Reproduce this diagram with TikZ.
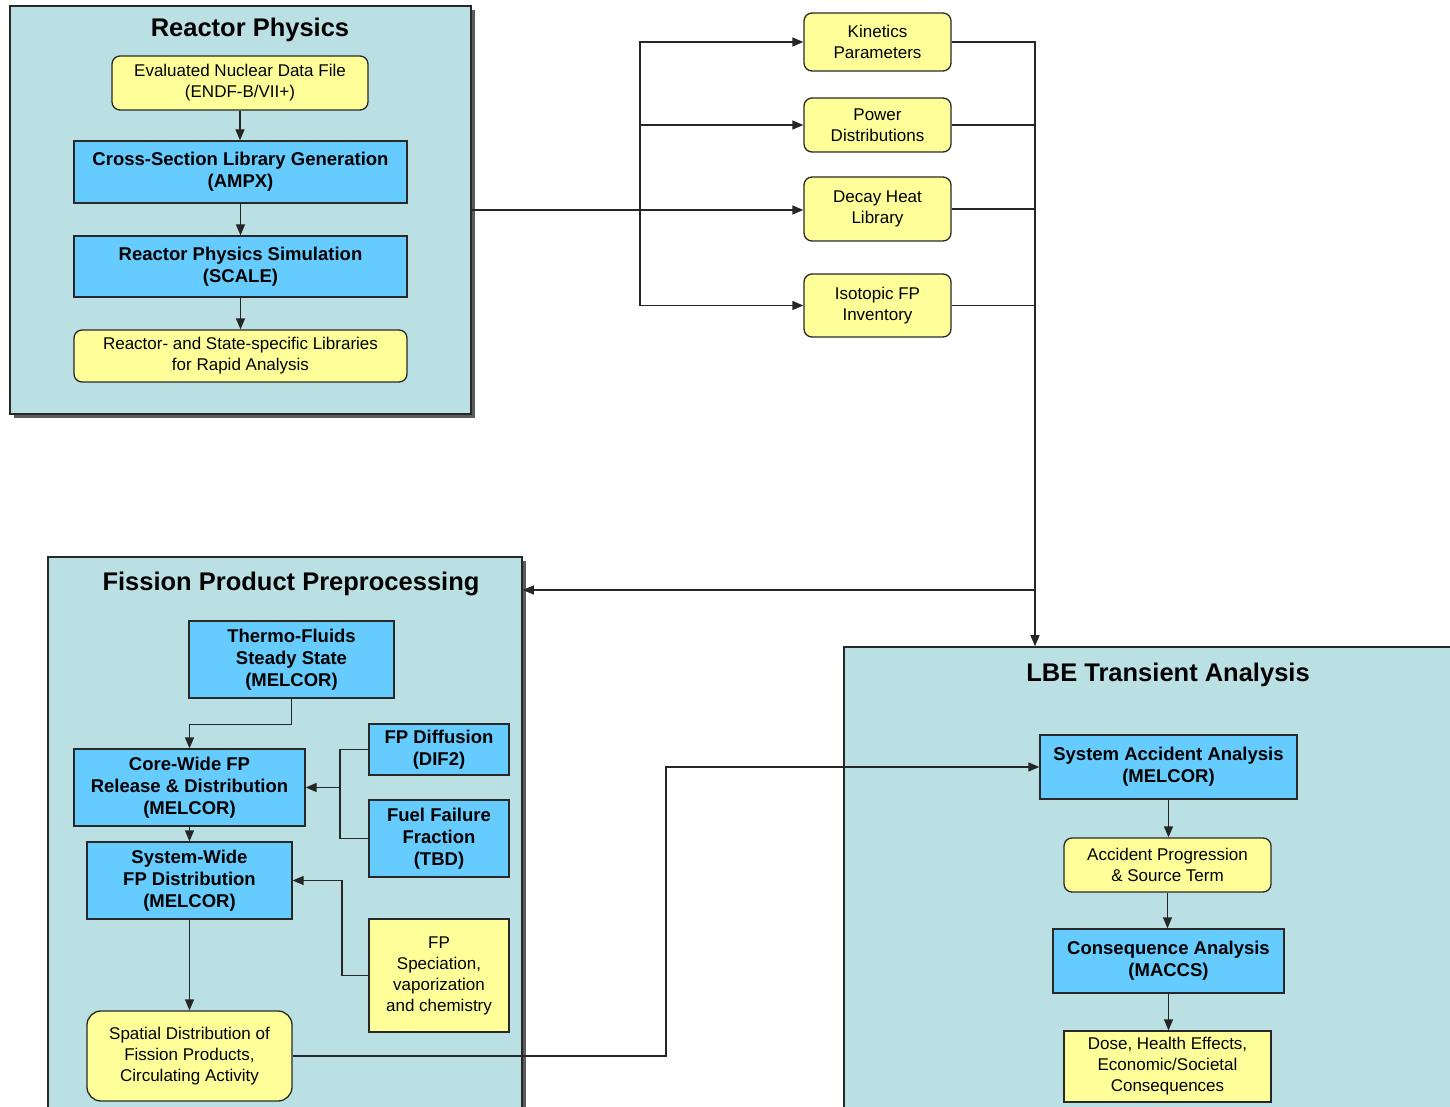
\documentclass[tikz,border=0pt]{standalone}
\usepackage{fontspec}
\setmainfont{Liberation Sans}
\usetikzlibrary{arrows.meta,shadows}
\definecolor{panelfill}{RGB}{187,224,227}
\definecolor{bluefill}{RGB}{102,204,255}
\definecolor{yellowfill}{RGB}{255,255,153}
\definecolor{edge}{RGB}{40,40,40}
\tikzset{
  panel/.style={draw=edge, line width=1.6pt, fill=panelfill, inner sep=0pt,
    drop shadow={shadow xshift=4pt, shadow yshift=-4pt, fill=black!80, opacity=0.8}},
  ptitle/.style={font=\fontsize{25.5}{30}\selectfont\bfseries, inner sep=0pt},
  bluebox/.style={draw=edge, line width=1.3pt, fill=bluefill, align=center, inner sep=0pt,
    font=\fontsize{18.5}{22}\selectfont\bfseries},
  ybox/.style={draw=edge, line width=1.3pt, fill=yellowfill, rounded corners=8pt, align=center,
    inner sep=0pt, font=\fontsize{17}{21}\selectfont},
  ysq/.style={ybox, sharp corners},
  conn/.style={line width=1.3pt, draw=black!85},
  arr/.style={conn, -{Triangle[length=11pt,width=9pt]}},
}
\begin{document}
\begin{tikzpicture}[x=1pt,y=-1pt]
\useasboundingbox (0,0) rectangle (1450,1107);
\fill[white] (0,0) rectangle (1450,1107);

% ---------- panels ----------
\node[panel, minimum width=461pt, minimum height=408pt] (rp) at (240.5,210) {};
\node[panel, minimum width=474pt, minimum height=573pt] (fpp) at (285,843.5) {};
\node[panel, minimum width=626pt, minimum height=483pt] (lbe) at (1157,888.5) {};

\node[ptitle] (rpt) at (250,29.5) {Reactor Physics};
\node[ptitle] (fppt) at (291,583.5) {Fission Product Preprocessing};
\node[ptitle] (lbet) at (1168,674.5) {LBE Transient Analysis};

% ---------- reactor physics ----------
\node[ybox, minimum width=256pt, minimum height=54pt] (endf) at (240,83) {Evaluated Nuclear Data File\\(ENDF-B/VII+)};
\node[bluebox, minimum width=333pt, minimum height=62pt] (ampx) at (240.5,172) {Cross-Section Library Generation\\(AMPX)};
\node[bluebox, minimum width=333pt, minimum height=61pt] (scale) at (240.5,266.5) {Reactor Physics Simulation\\(SCALE)};
\node[ybox, minimum width=333pt, minimum height=52pt] (libs) at (240.5,356) {Reactor- and State-specific Libraries\\for Rapid Analysis};

% ---------- outputs ----------
\node[ybox, minimum width=147pt, minimum height=58pt] (kin) at (877.5,42) {Kinetics\\Parameters};
\node[ybox, minimum width=147pt, minimum height=54pt] (pow) at (877.5,125) {Power\\Distributions};
\node[ybox, minimum width=147pt, minimum height=64pt] (dec) at (877.5,209) {Decay Heat\\Library};
\node[ybox, minimum width=147pt, minimum height=63pt] (iso) at (877.5,305.5) {Isotopic FP\\Inventory};

% ---------- fission product preprocessing ----------
\node[bluebox, minimum width=205pt, minimum height=77pt] (thermo) at (291.5,659.5) {Thermo-Fluids\\Steady State\\(MELCOR)};
\node[bluebox, minimum width=231pt, minimum height=77pt] (core) at (189.5,787.5) {Core-Wide FP\\Release \& Distribution\\(MELCOR)};
\node[bluebox, minimum width=205pt, minimum height=77pt] (sys) at (189.5,880.5) {System-Wide\\FP Distribution\\(MELCOR)};
\node[bluebox, minimum width=140pt, minimum height=51pt] (diff) at (439,749.5) {FP Diffusion\\(DIF2)};
\node[bluebox, minimum width=140pt, minimum height=77pt] (fuel) at (439,838.5) {Fuel Failure\\Fraction\\(TBD)};
\node[ysq, minimum width=140pt, minimum height=113pt] (spec) at (439,975.5) {FP\\Speciation,\\vaporization\\and chemistry};
\node[ybox, rounded corners=14pt, minimum width=205pt, minimum height=90pt] (spat) at (189.5,1056) {Spatial Distribution of\\Fission Products,\\Circulating Activity};

% ---------- LBE transient analysis ----------
\node[bluebox, minimum width=257pt, minimum height=64pt] (saa) at (1168.5,767) {System Accident Analysis\\(MELCOR)};
\node[ybox, minimum width=207pt, minimum height=54pt] (acc) at (1167.5,865) {Accident Progression\\\& Source Term};
\node[bluebox, minimum width=231pt, minimum height=64pt] (cons) at (1168.5,961) {Consequence Analysis\\(MACCS)};
\node[ysq, minimum width=207pt, minimum height=71pt] (dose) at (1167.5,1066.5) {Dose, Health Effects,\\Economic/Societal\\Consequences};

% ---------- connectors ----------
\draw[arr] (endf.south) -- (endf.south |- ampx.north);
\draw[arr] (ampx.south) -- (scale.north);
\draw[arr] (scale.south) -- (libs.north);

\coordinate (busL) at (640,210);
\coordinate (busR) at (1035,590);
\draw[arr] (rp.east) -- (rp.east -| dec.west);
\draw[arr] (busL) |- (kin.west);
\draw[arr] (busL) |- (pow.west);
\draw[arr] (busL) |- (iso.west);
\draw[conn] (kin.east) -| (busR);
\draw[conn] (pow.east) -| (busR);
\draw[conn] (dec.east) -| (busR);
\draw[conn] (iso.east) -| (busR);
\draw[arr] (busR) -- (busR -| fpp.east);
\draw[arr] (busR) -- (busR |- lbe.north);

\draw[arr] (thermo.south) -- ++(0,26) -| (core.north);
\draw[arr] (core.south) -- (sys.north);
\coordinate (busD) at (340,787.5);
\draw[conn] (diff.west) -| (busD);
\draw[conn] (fuel.west) -| (busD);
\draw[arr] (busD) -- (core.east);
\coordinate (busS) at (342,880.5);
\draw[arr] (spec.west) -| (busS) -- (sys.east);
\draw[arr] (sys.south) -- (spat.north);
\coordinate (bendX) at (666,767);
\draw[arr] (spat.east) -| (bendX) -- (saa.west);

\draw[arr] (saa.south) -- (saa.south |- acc.north);
\draw[arr] (acc.south) -- (acc.south |- cons.north);
\draw[arr] (cons.south) -- (cons.south |- dose.north);
\end{tikzpicture}
\end{document}
